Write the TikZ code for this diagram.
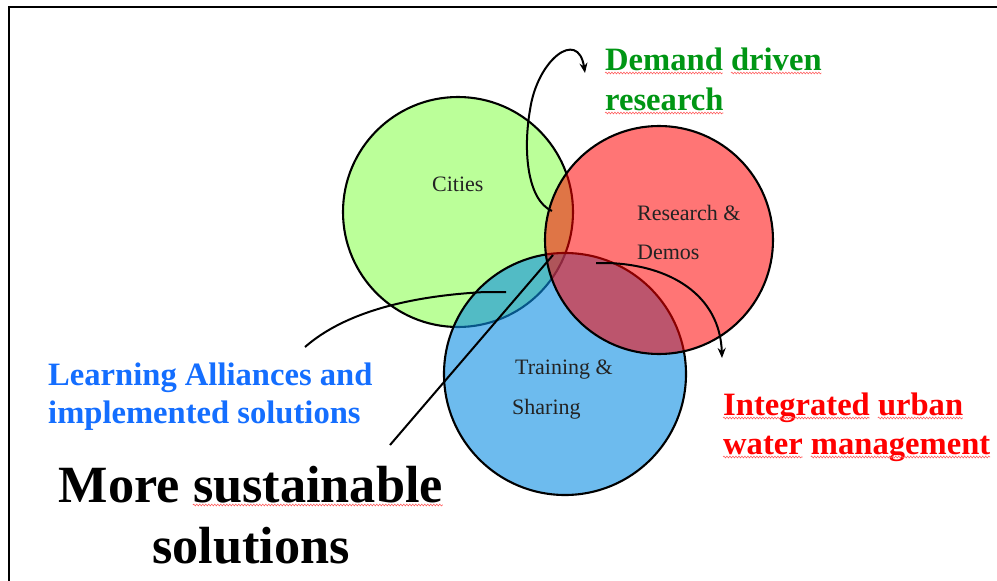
\documentclass[tikz,border=0pt]{standalone}
\usepackage{fontspec}
\setmainfont{Liberation Serif}
\usetikzlibrary{arrows.meta,decorations.pathmorphing,calc}
\newlength\sqa
\definecolor{cgreen}{RGB}{187,255,153}
\definecolor{cblue}{RGB}{13,142,227}
\definecolor{cred}{RGB}{255,0,0}
\definecolor{tgreen}{RGB}{0,150,20}
\definecolor{tblue}{RGB}{20,110,255}
\definecolor{tred}{RGB}{255,0,0}
\definecolor{tdark}{RGB}{35,35,35}
\definecolor{squigred}{RGB}{255,90,90}
\newcommand\labfont{\fontsize{32.6}{38}\selectfont\bfseries}
\newcommand\hugelabfont{\fontsize{52.3}{60}\selectfont\bfseries}
\newcommand\measure[2]{\settowidth\sqa{#2}\expandafter\xdef\csname mw#1\endcsname{\the\sqa}}
\tikzset{
  venn/.style={circle, draw=black, line width=2.1pt, inner sep=0pt},
  inlabel/.style={anchor=base west, inner sep=0pt, text=tdark, font=\fontsize{22}{26}\selectfont},
  biglabel/.style={anchor=base west, inner sep=0pt, font=\labfont},
  conn/.style={line width=2pt, draw=black},
  tip/.style={-{Stealth[length=10pt,width=8pt]}},
  squig/.style={draw=squigred, line width=0.55pt, decorate, decoration={snake, amplitude=0.9pt, segment length=3pt}},
}
\newcommand\squigat[3]{%
  \draw[squig] ([xshift=#2,yshift=-3pt]#1.base west) -- ([xshift=#3,yshift=-3pt]#1.base west);}
\begin{document}
\measure{aa}{\labfont Demand}%
\measure{ba}{\labfont Demand }%
\measure{bb}{\labfont Demand driven}%
\measure{ca}{\labfont research}%
\measure{da}{\labfont Integrated}%
\measure{ea}{\labfont Integrated }%
\measure{eb}{\labfont Integrated urban}%
\measure{fa}{\labfont water}%
\measure{ga}{\labfont water }%
\measure{gb}{\labfont water management}%
\measure{ha}{\hugelabfont More }%
\measure{hb}{\hugelabfont More sustainable}%
\begin{tikzpicture}[x=1pt,y=-1pt]
\useasboundingbox (0,0) rectangle (997,581);
\fill[white] (0,0) rectangle (997,581);
\draw[line width=1.5pt] (9,581) -- (9,7) -- (997,7);

% circles
\node[venn, fill=cgreen, minimum size=230pt] (cities) at (458,212) {};
\node[venn, fill=cblue, fill opacity=0.6, minimum size=242pt] (training) at (565,374) {};
\node[venn, fill=cred, fill opacity=0.54, minimum size=228pt] (research) at (659,240) {};

% circle labels
\node[inlabel] (lc) at (432,191) {Cities};
\node[inlabel] (lr1) at (637,220) {Research \&};
\node[inlabel] (lr2) at (637,259) {Demos};
\node[inlabel] (lt1) at (515,374) {Training \&};
\node[inlabel] (lt2) at (512,414) {Sharing};

% outer labels
\node[biglabel, text=tgreen] (dd1) at (605,70) {Demand driven};
\node[biglabel, text=tgreen] (dd2) at (605,110) {research};
\node[biglabel, text=tred] (iu1) at (723,415) {Integrated urban};
\node[biglabel, text=tred] (iu2) at (723,454) {water management};
\node[biglabel, text=tblue] (la1) at (48,385) {Learning Alliances and};
\node[biglabel, text=tblue] (la2) at (48,423) {implemented solutions};
\node[anchor=base, inner sep=0pt, font=\hugelabfont] (ms1) at (251,502) {More sustainable};
\node[anchor=base, inner sep=0pt, font=\hugelabfont] (ms2) at (251,563) {solutions};

% spelling squiggles
\squigat{dd1}{0pt}{\mwaa}
\squigat{dd1}{\mwba}{\mwbb}
\squigat{dd2}{0pt}{\mwca}
\squigat{iu1}{0pt}{\mwda}
\squigat{iu1}{\mwea}{\mweb}
\squigat{iu2}{0pt}{\mwfa}
\squigat{iu2}{\mwga}{\mwgb}
\squigat{ms1}{\mwha}{\mwhb}

% connectors
\coordinate (d0) at (552,211);
\coordinate (d1) at (585,73);
\draw[conn,tip] (d0) .. controls (527,200) and (523,150) .. (530,110) .. controls (537,60) and (578,28) .. (d1);

\coordinate (i0) at (596,263);
\coordinate (i1) at (722,358);
\draw[conn,tip] (i0) -- (608,263) .. controls (670,265) and (720,295) .. (i1);

\coordinate (l0) at (305,347);
\coordinate (l1) at (506,292);
\draw[conn] (l0) .. controls (345,312) and (410,296) .. (485,292) -- (l1);

\coordinate (s0) at (390,445);
\coordinate (s1) at (553,255);
\draw[conn] (s0) -- (s1);
\end{tikzpicture}
\end{document}
